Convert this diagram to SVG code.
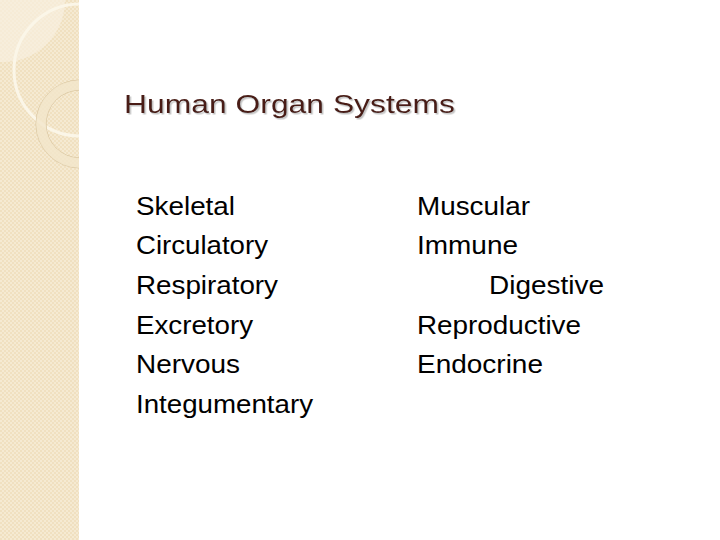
<svg xmlns="http://www.w3.org/2000/svg" width="720" height="540" viewBox="0 0 720 540">
<defs>
<pattern id="chk" width="4" height="4" patternUnits="userSpaceOnUse"><rect width="4" height="4" fill="#f0e0c0"/><rect width="2" height="2" fill="#f5ead2"/><rect x="2" y="2" width="2" height="2" fill="#f5ead2"/></pattern>
<clipPath id="strip"><rect width="79" height="540"/></clipPath>
<filter id="sh" x="-5%" y="-20%" width="110%" height="150%"><feDropShadow dx="1.5" dy="1.5" stdDeviation="0.5" flood-color="#999" flood-opacity="0.6"/></filter>
</defs>
<style>
.b{font-family:"Liberation Sans",Arial,sans-serif;font-size:25px;fill:#000}
.t{font-family:"Liberation Sans",Arial,sans-serif;font-size:26px;fill:#4a1f18}
</style>
<rect width="720" height="540" fill="#fff"/>
<g id="strip-bg" clip-path="url(#strip)">
<rect width="79" height="540" fill="url(#chk)"/>
<path d="M0 0H65A62 62 0 0 1 0 62Z" fill="#f8f0e0" opacity="0.7"/>
<circle cx="80" cy="70" r="66" fill="none" stroke="#fbf6e8" stroke-width="3"/>
<circle cx="80" cy="124" r="44" fill="none" stroke="#d8c49e" stroke-width="1"/>
<circle cx="80" cy="124" r="34" fill="none" stroke="#d8c49e" stroke-width="1"/>
<path d="M80 80A44 44 0 0 0 80 168V158A34 34 0 0 1 80 90Z" fill="#f3e6ca" opacity="0.8"/>
</g>
<g id="title"><text class="t" x="124" y="113" filter="url(#sh)" textLength="331" lengthAdjust="spacingAndGlyphs">Human Organ Systems</text></g>
<g id="col1">
<text class="b" x="136" y="215" textLength="99" lengthAdjust="spacingAndGlyphs">Skeletal</text>
<text class="b" x="136" y="254" textLength="132" lengthAdjust="spacingAndGlyphs">Circulatory</text>
<text class="b" x="136" y="294" textLength="142" lengthAdjust="spacingAndGlyphs">Respiratory</text>
<text class="b" x="136" y="334" textLength="117" lengthAdjust="spacingAndGlyphs">Excretory</text>
<text class="b" x="136" y="373" textLength="104" lengthAdjust="spacingAndGlyphs">Nervous</text>
<text class="b" x="136" y="413" textLength="177" lengthAdjust="spacingAndGlyphs">Integumentary</text>
</g>
<g id="col2">
<text class="b" x="417" y="215" textLength="113" lengthAdjust="spacingAndGlyphs">Muscular</text>
<text class="b" x="417" y="254" textLength="101" lengthAdjust="spacingAndGlyphs">Immune</text>
<text class="b" x="489" y="294" textLength="115" lengthAdjust="spacingAndGlyphs">Digestive</text>
<text class="b" x="417" y="334" textLength="164" lengthAdjust="spacingAndGlyphs">Reproductive</text>
<text class="b" x="417" y="373" textLength="126" lengthAdjust="spacingAndGlyphs">Endocrine</text>
</g>
</svg>
